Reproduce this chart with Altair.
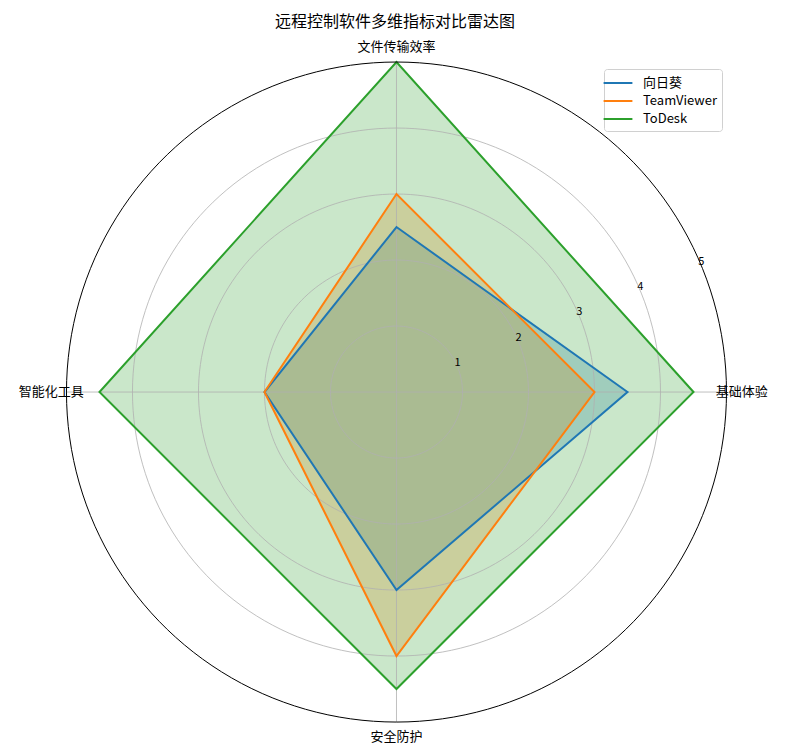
import altair as alt
import pandas as pd

# ---- data ----
categories = ["基础体验", "文件传输效率", "智能化工具", "安全防护"]
series = ["向日葵", "TeamViewer", "ToDesk"]
xiangrikui = [3.5, 2.5, 2.0, 3.0]
teamviewer = [3.0, 3.0, 2.0, 4.0]
todesk = [4.5, 5.0, 4.5, 4.5]
radial_ticks = [1, 2, 3, 4, 5]
colors = ["#1f77b4", "#ff7f0e", "#2ca02c"]
title_text = "远程控制软件多维指标对比雷达图"

FONT = "Noto Sans CJK SC"

rows = []
for name, vals in zip(series, [xiangrikui, teamviewer, todesk]):
    for i, (c, v) in enumerate(zip(categories, vals)):
        rows.append({"software": name, "category": c, "idx": i, "value": v})
df = pd.DataFrame(rows)
cat_df = pd.DataFrame({"category": categories, "idx": list(range(len(categories)))})
ring_df = pd.DataFrame({"level": radial_ticks})

W, H = 774, 709
xs = alt.Scale(domain=[-5.886, 5.841], nice=False, zero=False)
ys = alt.Scale(domain=[-5.378, 5.364], nice=False, zero=False)
X = lambda f: alt.X(f, type="quantitative", scale=xs, axis=None)
Y = lambda f: alt.Y(f, type="quantitative", scale=ys, axis=None)

# fills (one layer per series, drawn in order)
fills = []
for name, col in zip(series, colors):
    fills.append(
        alt.Chart(df)
        .transform_filter(alt.datum.software == name)
        .transform_calculate(ang="datum.idx * PI / 2")
        .transform_calculate(px="datum.value * cos(datum.ang)", py="datum.value * sin(datum.ang)")
        .mark_line(interpolate="linear-closed", fill=col, fillOpacity=0.25, strokeOpacity=0)
        .encode(x=X("px"), y=Y("py"), order=alt.Order("idx:Q"))
    )

# grid rings
rings_base = (
    alt.Chart(ring_df)
    .transform_calculate(t="sequence(0, 362, 2)")
    .transform_flatten(["t"])
    .transform_calculate(
        gx="datum.level * cos(datum.t * PI / 180)",
        gy="datum.level * sin(datum.t * PI / 180)",
    )
)
inner_rings = (
    rings_base.transform_filter(alt.datum.level < 5)
    .mark_line(stroke="#b0b0b0", strokeWidth=0.8)
    .encode(x=X("gx"), y=Y("gy"), detail="level:N", order=alt.Order("t:Q"))
)
outer_ring = (
    rings_base.transform_filter(alt.datum.level == 5)
    .mark_line(stroke="#000000", strokeWidth=1)
    .encode(x=X("gx"), y=Y("gy"), detail="level:N", order=alt.Order("t:Q"))
)

# spokes
spokes = (
    alt.Chart(cat_df)
    .transform_calculate(
        x0="0", y0="0",
        x1="5 * cos(datum.idx * PI / 2)", y1="5 * sin(datum.idx * PI / 2)",
    )
    .mark_rule(stroke="#b0b0b0", strokeWidth=0.8)
    .encode(x=X("x0"), y=Y("y0"), x2="x1:Q", y2="y1:Q")
)

# series lines
lines = (
    alt.Chart(df)
    .transform_calculate(ang="datum.idx * PI / 2")
    .transform_calculate(px="datum.value * cos(datum.ang)", py="datum.value * sin(datum.ang)")
    .mark_line(interpolate="linear-closed", strokeWidth=2)
    .encode(
        x=X("px"),
        y=Y("py"),
        order=alt.Order("idx:Q"),
        color=alt.Color(
            "software:N",
            scale=alt.Scale(domain=series, range=colors),
            sort=series,
            legend=alt.Legend(
                title=None,
                orient="none",
                legendX=596,
                legendY=31,
                symbolType="M-1.8,0L1.8,0",
                symbolSize=256,
                symbolStrokeWidth=2,
                symbolFillColor="transparent",
                labelFont=FONT,
                labelFontSize=13,
                labelColor="#000000",
                labelOffset=16,
                rowPadding=2,
                padding=5,
                strokeColor="#d0d0d0",
                fillColor="#ffffff",
                cornerRadius=3,
            ),
        ),
    )
)

# category labels
cat_labels = (
    alt.Chart(cat_df)
    .transform_calculate(
        lx="5.23 * cos(datum.idx * PI / 2)", ly="5.23 * sin(datum.idx * PI / 2)"
    )
    .mark_text(font=FONT, fontSize=13, align="center", baseline="middle", color="#000000")
    .encode(x=X("lx"), y=Y("ly"), text="category:N")
)

# radial tick labels
tick_labels = (
    alt.Chart(pd.DataFrame({"r": radial_ticks}))
    .transform_calculate(
        tx="datum.r * cos(22.5 * PI / 180)", ty="datum.r * sin(22.5 * PI / 180)"
    )
    .mark_text(font=FONT, fontSize=11, align="center", baseline="bottom", color="#000000", dy=1)
    .encode(x=X("tx"), y=Y("ty"), text="r:Q")
)

chart = (
    alt.layer(*fills, inner_rings, spokes, lines, outer_ring, cat_labels, tick_labels)
    .properties(
        width=W,
        height=H,
        autosize=alt.AutoSizeParams(type="none"),
        padding={"top": 30, "left": 0, "right": 0, "bottom": 0},
        view=alt.ViewBackground(strokeWidth=0, stroke="transparent"),
        title=alt.TitleParams(
            title_text, font=FONT, fontSize=16, fontWeight="normal",
            anchor="middle", offset=8, color="#000000",
        ),
    )
    .configure_view(strokeWidth=0, stroke="transparent")
    .configure_axis(domain=False, grid=False)
    .configure(background="#ffffff")
)

chart.save("out.html", embed_options={"renderer": "svg", "actions": False})
